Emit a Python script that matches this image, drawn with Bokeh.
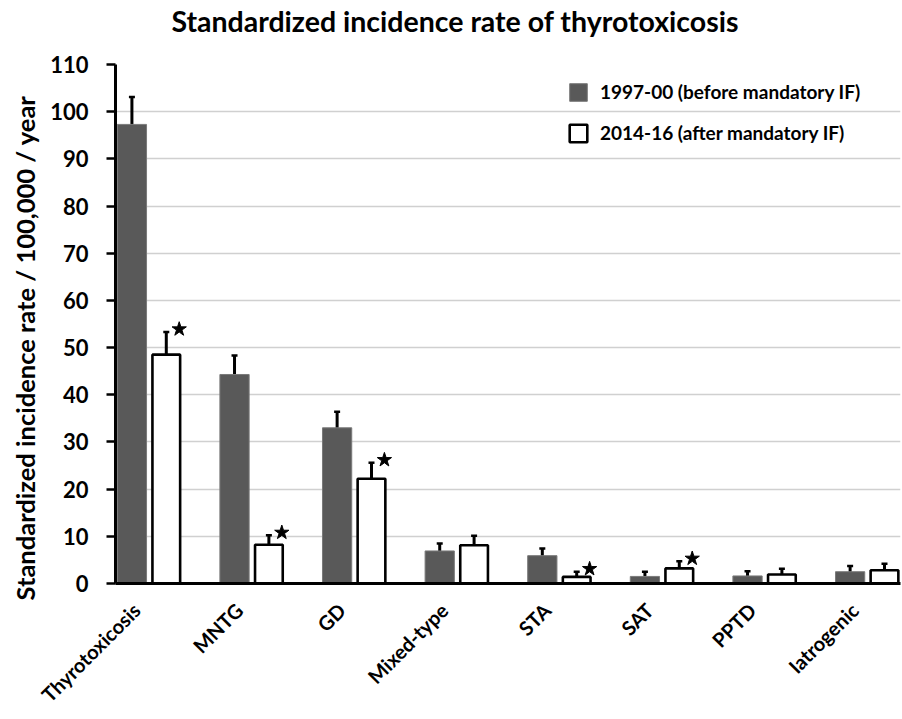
import math
from bokeh.plotting import figure
from bokeh.layouts import column
from bokeh.models import (ColumnDataSource, Whisker, TeeHead, FixedTicker, Legend,
                          LegendItem, Range1d, Title, Label)
from bokeh.transform import dodge
from bokeh.embed import file_html
from bokeh.resources import INLINE

# ---- data ----
categories = ["Thyrotoxicosis", "MNTG", "GD", "Mixed-type", "STA", "SAT", "PPTD", "Iatrogenic"]
before_vals = [97.3, 44.3, 33.0, 6.9, 5.9, 1.5, 1.6, 2.5]      # 1997-00
before_err = [5.8, 4.0, 3.4, 1.6, 1.5, 1.0, 1.0, 1.2]
after_vals = [48.5, 8.2, 22.2, 8.1, 1.4, 3.2, 1.9, 2.8]        # 2014-16
after_err = [4.8, 2.0, 3.4, 2.0, 1.1, 1.5, 1.2, 1.4]
significant = [True, True, True, False, True, True, False, False]
y_ticks = [0, 10, 20, 30, 40, 50, 60, 70, 80, 90, 100, 110]
legend_labels = ["1997-00 (before mandatory IF)", "2014-16 (after mandatory IF)"]
title_text = "Standardized incidence rate of thyrotoxicosis"
y_label = "Standardized incidence rate / 100,000 / year"

FONT = "Lato"
W, H_TITLE, H_MAIN = 902, 44, 675
pos = list(range(len(categories)))

src = ColumnDataSource(dict(
    pos=pos,
    before=before_vals,
    b_lo=[v - e for v, e in zip(before_vals, before_err)],
    b_hi=[v + e for v, e in zip(before_vals, before_err)],
    after=after_vals,
    a_lo=[v - e for v, e in zip(after_vals, after_err)],
    a_hi=[v + e for v, e in zip(after_vals, after_err)],
))

sig_idx = [i for i, s in enumerate(significant) if s]
star_src = ColumnDataSource(dict(
    pos=[pos[i] for i in sig_idx],
    y=[after_vals[i] + after_err[i] + 0.6 for i in sig_idx],
))

# ---- title strip (its own small figure; its frame is aligned with the main frame) ----
tfig = figure(width=W, height=H_TITLE, x_range=Range1d(112, 900), y_range=Range1d(0, H_TITLE),
              output_backend="svg", toolbar_location=None, title=None,
              x_axis_type=None, y_axis_type=None, min_border=0)
tfig.outline_line_color = None
tfig.xgrid.visible = False
tfig.ygrid.visible = False
tfig.add_layout(Label(x=453, y=24, text=title_text, text_align="center",
                      text_baseline="middle", text_font=FONT, text_font_size="28.5px",
                      text_font_style="bold", text_color="black"))

# ---- main chart ----
p = figure(width=W, height=H_MAIN, title=None,
           x_range=Range1d(-0.204, 7.447), y_range=Range1d(0, 110),
           output_backend="svg", toolbar_location=None,
           min_border_left=112, min_border_right=2,
           min_border_top=20, min_border_bottom=136)
p.outline_line_color = None
p.background_fill_color = "white"

DX_B, DX_A = -0.044, 0.291

r_before = p.vbar(x=dodge("pos", DX_B, range=p.x_range), top="before", width=0.285,
                  fill_color="#595959", line_color="#7a7a7a", line_width=1, source=src)
r_after = p.vbar(x=dodge("pos", DX_A, range=p.x_range), top="after", width=0.27,
                 fill_color="white", line_color="black", line_width=2.6, source=src)

for base, lo, hi in [(DX_B, "b_lo", "b_hi"), (DX_A, "a_lo", "a_hi")]:
    w = Whisker(source=src, base=dodge("pos", base, range=p.x_range), lower=lo, upper=hi,
                line_color="black", line_width=3,
                upper_head=TeeHead(size=6, line_width=2.5, line_color="black"),
                lower_head=TeeHead(size=6, line_width=2.5, line_color="black"))
    p.add_layout(w)

p.scatter(x=dodge("pos", DX_A + 0.126, range=p.x_range), y="y", marker="star", size=15,
          fill_color="black", line_color="black", source=star_src)

# y axis label as a left-side title (starts just below the bottom of the frame)
ylab = Title(text=y_label, align="left", offset=-17, standoff=15,
             text_font=FONT, text_font_size="25.5px", text_font_style="bold",
             text_color="black")
p.add_layout(ylab, "left")

ya = p.yaxis[0]
ya.ticker = FixedTicker(ticks=y_ticks)
ya.major_label_text_font = FONT
ya.major_label_text_font_size = "22px"
ya.major_label_text_font_style = "bold"
ya.major_label_text_color = "black"
ya.major_label_standoff = 18
ya.axis_line_width = 3
ya.axis_line_color = "black"
ya.major_tick_line_width = 2.5
ya.major_tick_line_color = "black"
ya.major_tick_out = 9
ya.major_tick_in = 0
ya.minor_tick_line_color = None

# x axis
xa = p.xaxis[0]
xa.ticker = FixedTicker(ticks=pos)
xa.major_label_overrides = {i: c for i, c in zip(pos, categories)}
xa.major_label_orientation = math.pi / 4
xa.major_label_text_font = FONT
xa.major_label_text_font_size = "20px"
xa.major_label_text_font_style = "bold"
xa.major_label_text_color = "black"
xa.major_label_standoff = 23
xa.major_tick_out = 0
xa.major_tick_in = 0
xa.major_tick_line_color = None
xa.minor_tick_line_color = None
xa.axis_line_width = 3
xa.axis_line_color = "black"

p.xgrid.visible = False
p.ygrid.ticker = FixedTicker(ticks=y_ticks)
p.ygrid.grid_line_color = "#d0d0d0"
p.ygrid.grid_line_width = 1.5

legend = Legend(items=[LegendItem(label=legend_labels[0], renderers=[r_before]),
                       LegendItem(label=legend_labels[1], renderers=[r_after])],
                location=(452, 439))
legend.border_line_color = None
legend.background_fill_alpha = 0
legend.glyph_width = 22
legend.glyph_height = 22
legend.spacing = 18
legend.padding = 10
legend.margin = 0
legend.label_standoff = 11
legend.label_text_font = FONT
legend.label_text_font_size = "19px"
legend.label_text_font_style = "bold"
legend.label_text_color = "black"
p.add_layout(legend)

layout = column(tfig, p, spacing=0)
open("out.html", "w").write(file_html(layout, INLINE))
